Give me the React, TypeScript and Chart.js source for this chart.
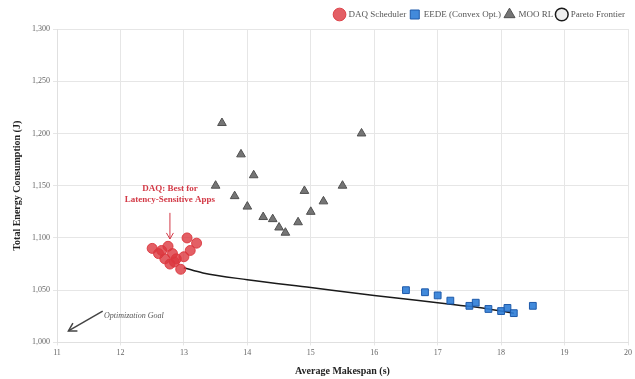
import React, { useEffect, useRef } from 'react';
import { Chart, registerables } from 'chart.js';

Chart.register(...registerables);

// DAQ Scheduler
const daqX = [12.5, 12.6, 12.65, 12.75, 12.7, 12.78, 12.82, 12.88, 12.95, 13.0, 13.05, 13.1, 13.2, 12.85];
const daqY = [1090, 1085, 1088, 1092, 1080, 1075, 1085, 1080, 1070, 1082, 1100, 1088, 1095, 1077];
// EEDE (Convex Opt.)
const eedeX = [16.5, 16.8, 17.0, 17.2, 17.5, 17.6, 17.8, 18.0, 18.1, 18.2, 18.5];
const eedeY = [1050, 1048, 1045, 1040, 1035, 1038, 1032, 1030, 1033, 1028, 1035];
// MOO RL
const mooX = [13.5, 13.6, 13.8, 13.9, 14.0, 14.1, 14.25, 14.4, 14.5, 14.6, 14.8, 14.9, 15.0, 15.2, 15.5, 15.8];
const mooY = [1150, 1210, 1140, 1180, 1130, 1160, 1120, 1118, 1110, 1105, 1115, 1145, 1125, 1135, 1150, 1200];
// Pareto Frontier
const paretoX = [13.0, 13.3, 14.0, 15.0, 16.0, 17.0, 17.5, 18.0, 18.2];
const paretoY = [1071.5, 1066.5, 1060, 1052.5, 1045, 1038, 1034.5, 1030, 1028];

const xTicks = [11, 12, 13, 14, 15, 16, 17, 18, 19, 20];
const yMin = 1000;
const yMax = 1300;
const yStep = 50;

// annotation anchors (data units)
const daqNoteLines = ['DAQ: Best for', 'Latency-Sensitive Apps'];
const daqNoteAt = { x: 12.78, y: 1147.5 };
const daqArrow = { x: 12.78, yFrom: 1124, yTo: 1099 };
const goalText = 'Optimization Goal';
const goalTextAt = { x: 11.74, y: 1025 };
const goalArrow = { x0: 11.72, y0: 1030, x1: 11.18, y1: 1011 };

const SERIF = '"Liberation Serif", "Times New Roman", serif';

const pts = (xs: number[], ys: number[]) => xs.map((x, i) => ({ x, y: ys[i] }));

const drawArrowHead = (ctx: CanvasRenderingContext2D, fx: number, fy: number, tx: number, ty: number, len: number) => {
  const a = Math.atan2(ty - fy, tx - fx);
  const s = Math.PI / 6;
  ctx.beginPath();
  ctx.moveTo(tx - len * Math.cos(a - s), ty - len * Math.sin(a - s));
  ctx.lineTo(tx, ty);
  ctx.lineTo(tx - len * Math.cos(a + s), ty - len * Math.sin(a + s));
  ctx.stroke();
};

const annotations = {
  id: 'annotations',
  afterDatasetsDraw(chart: any) {
    const { ctx, scales } = chart;
    const xs = scales.x;
    const ys = scales.y;
    ctx.save();
    // DAQ note
    ctx.fillStyle = '#d33a47';
    ctx.font = `bold 9px ${SERIF}`;
    ctx.textAlign = 'center';
    ctx.textBaseline = 'middle';
    const nx = xs.getPixelForValue(daqNoteAt.x);
    const ny = ys.getPixelForValue(daqNoteAt.y);
    daqNoteLines.forEach((t, i) => ctx.fillText(t, nx, ny + i * 11));
    ctx.strokeStyle = '#d33a47';
    ctx.lineWidth = 1;
    const ax = xs.getPixelForValue(daqArrow.x);
    const ay0 = ys.getPixelForValue(daqArrow.yFrom);
    const ay1 = ys.getPixelForValue(daqArrow.yTo);
    ctx.beginPath();
    ctx.moveTo(ax, ay0);
    ctx.lineTo(ax, ay1);
    ctx.stroke();
    drawArrowHead(ctx, ax, ay0, ax, ay1, 7);
    // Optimization goal
    ctx.strokeStyle = '#444';
    ctx.lineWidth = 1.5;
    const gx0 = xs.getPixelForValue(goalArrow.x0);
    const gy0 = ys.getPixelForValue(goalArrow.y0);
    const gx1 = xs.getPixelForValue(goalArrow.x1);
    const gy1 = ys.getPixelForValue(goalArrow.y1);
    ctx.beginPath();
    ctx.moveTo(gx0, gy0);
    ctx.lineTo(gx1, gy1);
    ctx.stroke();
    drawArrowHead(ctx, gx0, gy0, gx1, gy1, 9);
    ctx.fillStyle = '#555';
    ctx.font = `italic 8px ${SERIF}`;
    ctx.textAlign = 'left';
    ctx.fillText(goalText, xs.getPixelForValue(goalTextAt.x), ys.getPixelForValue(goalTextAt.y));
    ctx.restore();
  },
};

export default function App() {
  const ref = useRef<HTMLCanvasElement | null>(null);
  useEffect(() => {
    if (!ref.current) return;
    const chart = new Chart(ref.current, {
      type: 'scatter',
      data: {
        datasets: [
          {
            label: 'DAQ Scheduler',
            data: pts(daqX, daqY),
            backgroundColor: 'rgba(220, 55, 62, 0.8)',
            borderColor: 'rgba(220, 55, 62, 0.9)',
            borderWidth: 1,
            pointStyle: 'circle',
            pointRadius: 5,
          },
          {
            label: 'EEDE (Convex Opt.)',
            data: pts(eedeX, eedeY),
            backgroundColor: 'rgba(45, 125, 215, 0.9)',
            borderColor: 'rgba(30, 90, 170, 1)',
            borderWidth: 1,
            pointStyle: 'rect',
            pointRadius: 4.8,
          },
          {
            label: 'MOO RL',
            data: pts(mooX, mooY),
            backgroundColor: 'rgba(110, 110, 110, 0.95)',
            borderColor: 'rgba(80, 80, 80, 1)',
            borderWidth: 1,
            pointStyle: 'triangle',
            pointRadius: 5,
          },
          {
            label: 'Pareto Frontier',
            data: pts(paretoX, paretoY),
            showLine: true,
            borderColor: '#1a1a1a',
            backgroundColor: 'rgba(210, 210, 210, 0.35)',
            borderWidth: 1.5,
            pointRadius: 0,
            pointStyle: 'circle',
            cubicInterpolationMode: 'monotone',
          } as any,
        ],
      },
      options: {
        animation: false,
        responsive: true,
        maintainAspectRatio: false,
        layout: { padding: { left: 11, right: 6, top: 6, bottom: 2 } },
        plugins: {
          legend: {
            position: 'top',
            align: 'end',
            labels: {
              usePointStyle: true,
              color: '#555',
              font: { family: SERIF, size: 9 },
              padding: 4,
            },
          },
          tooltip: { enabled: false },
        },
        scales: {
          x: {
            type: 'linear',
            min: 11,
            max: 20,
            afterBuildTicks: (axis: any) => {
              axis.ticks = xTicks.map((v) => ({ value: v }));
            },
            ticks: { color: '#666', font: { family: SERIF, size: 8 } },
            grid: { color: '#e6e6e6', tickLength: 3 },
            border: { color: '#e0e0e0' },
            title: {
              display: true,
              text: 'Average Makespan (s)',
              color: '#222',
              font: { family: SERIF, size: 10, weight: 'bold' },
              padding: { top: 4, bottom: 0 },
            },
          },
          y: {
            type: 'linear',
            min: yMin,
            max: yMax,
            ticks: {
              stepSize: yStep,
              color: '#666',
              font: { family: SERIF, size: 8 },
              padding: 3,
              callback: (v: any) => Number(v).toLocaleString('en-US'),
            },
            grid: { color: '#e6e6e6', tickLength: 4 },
            border: { color: '#e0e0e0' },
            title: {
              display: true,
              text: 'Total Energy Consumption (J)',
              color: '#222',
              font: { family: SERIF, size: 10, weight: 'bold' },
              padding: { top: 0, bottom: 6 },
            },
          },
        },
      },
      plugins: [annotations],
    });
    return () => chart.destroy();
  }, []);
  return (
    <div style={{ position: 'absolute', left: 0, top: 0, width: 635, height: 379, background: '#fff' }}>
      <canvas ref={ref} />
    </div>
  );
}
